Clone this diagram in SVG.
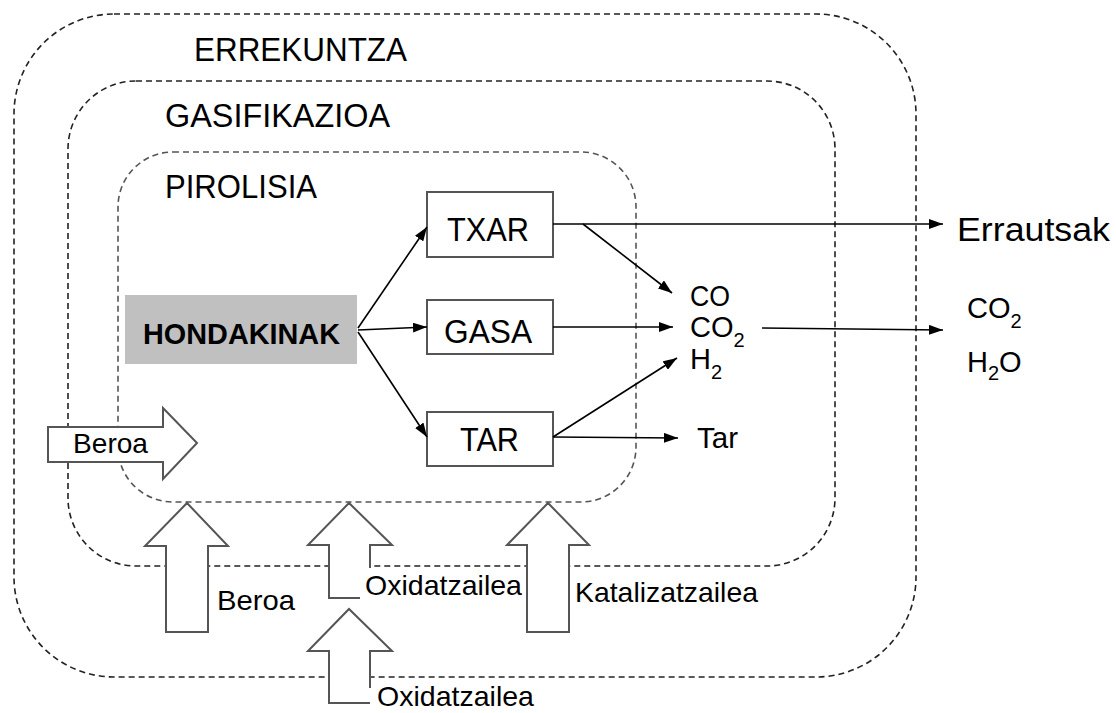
<svg xmlns="http://www.w3.org/2000/svg" width="1116" height="713" viewBox="0 0 1116 713">
<defs>
<marker id="ah" markerUnits="userSpaceOnUse" markerWidth="14" markerHeight="10" viewBox="0 0 14 10" refX="14" refY="5" orient="auto">
<path d="M0,0 L14,5 L0,10 Z" fill="#000"/>
</marker>
</defs>
<style>
.zone{fill:none;stroke:#222;stroke-width:1.6;stroke-dasharray:6 4}
.zone2{fill:none;stroke:#555;stroke-width:1.6;stroke-dasharray:6 4}
.t{font-family:"Liberation Sans",Arial,sans-serif;fill:#000}
.title{font-size:33px}
.box{fill:#fff;stroke:#555;stroke-width:2}
.conn{fill:none;stroke:#000;stroke-width:1.6;marker-end:url(#ah)}
.big{fill:#fff;stroke:#555;stroke-width:2;stroke-linejoin:miter}
.lbl{font-size:28px}
.chem{font-size:29px}
.sub{font-size:20px}
</style>
<g id="erreuntza">
<rect class="zone" x="14" y="14" width="902" height="663" rx="100" ry="100"/>
<text class="t title" x="194" y="61" textLength="213" lengthAdjust="spacingAndGlyphs">ERREKUNTZA</text>
</g>
<g id="gasifikazioa">
<rect class="zone" x="68" y="81" width="767" height="485" rx="68" ry="68"/>
<text class="t title" x="165" y="127" textLength="225" lengthAdjust="spacingAndGlyphs">GASIFIKAZIOA</text>
</g>
<g id="pirolisia">
<rect class="zone2" x="118" y="152" width="518" height="350" rx="55" ry="55"/>
<text class="t title" x="165" y="198" textLength="152" lengthAdjust="spacingAndGlyphs">PIROLISIA</text>
</g>
<g id="hondakinak">
<rect x="125" y="295" width="232" height="69" fill="#c0c0c0"/>
<text class="t" x="143" y="344" font-size="29.5" font-weight="bold" textLength="197" lengthAdjust="spacingAndGlyphs">HONDAKINAK</text>
</g>
<g id="txar">
<rect class="box" x="427" y="192" width="126" height="65"/>
<text class="t title" x="447" y="241" textLength="82" lengthAdjust="spacingAndGlyphs">TXAR</text>
</g>
<g id="gasa">
<rect class="box" x="427" y="300" width="126" height="54"/>
<text class="t title" x="444" y="343" textLength="88" lengthAdjust="spacingAndGlyphs">GASA</text>
</g>
<g id="tar">
<rect class="box" x="427" y="412" width="126" height="54"/>
<text class="t title" x="460" y="451" textLength="59" lengthAdjust="spacingAndGlyphs">TAR</text>
</g>
<g id="gases">
<text class="t chem" x="690" y="306" textLength="40" lengthAdjust="spacingAndGlyphs">CO</text>
<text class="t chem" x="690" y="337">CO<tspan class="sub" dy="10">2</tspan></text>
<text class="t chem" x="690" y="369">H<tspan class="sub" dy="10">2</tspan></text>
</g>
<g id="tar-out">
<text class="t chem" x="697" y="448" textLength="41" lengthAdjust="spacingAndGlyphs">Tar</text>
</g>
<g id="erraustak">
<text class="t" x="957" y="241" font-size="34" textLength="153" lengthAdjust="spacingAndGlyphs">Errautsak</text>
</g>
<g id="products">
<text class="t chem" x="967" y="318">CO<tspan class="sub" dy="10">2</tspan></text>
<text class="t chem" x="967" y="372">H<tspan class="sub" dy="8">2</tspan><tspan dy="-8">O</tspan></text>
</g>
<g id="connectors">
<line class="conn" x1="358" y1="328" x2="427" y2="227"/>
<line class="conn" x1="358" y1="330" x2="427" y2="327"/>
<line class="conn" x1="358" y1="332" x2="427" y2="437"/>
<line class="conn" x1="553" y1="224" x2="943" y2="224"/>
<line class="conn" x1="583" y1="224" x2="672" y2="293"/>
<line class="conn" x1="553" y1="327" x2="673" y2="327"/>
<line class="conn" x1="553" y1="437" x2="677" y2="358"/>
<line class="conn" x1="553" y1="437" x2="678" y2="438"/>
<line class="conn" x1="762" y1="328" x2="943" y2="330"/>
</g>
<g id="beroa-left">
<path class="big" d="M48,427 L163,427 L163,408 L197,443 L163,479 L163,462 L48,462 Z"/>
<text class="t lbl" x="73" y="453" textLength="75" lengthAdjust="spacingAndGlyphs">Beroa</text>
</g>
<g id="beroa-bottom">
<path class="big" d="M166,632 L166,546 L145,546 L187,503 L228,546 L208,546 L208,632 Z"/>
<text class="t lbl" x="217" y="610" textLength="78" lengthAdjust="spacingAndGlyphs">Beroa</text>
</g>
<g id="oxidatzailea-1">
<path class="big" d="M360,598 L329,598 L329,545 L308,545 L349,503 L392,545 L370,545 L370,568"/>
<text class="t lbl" x="365" y="595" textLength="157" lengthAdjust="spacingAndGlyphs">Oxidatzailea</text>
</g>
<g id="oxidatzailea-2">
<path class="big" d="M370,703 L329,703 L329,651 L308,651 L349,609 L392,651 L370,651 L370,688"/>
<text class="t lbl" x="377" y="706" textLength="157" lengthAdjust="spacingAndGlyphs">Oxidatzailea</text>
</g>
<g id="katalizatzailea">
<path class="big" d="M527,632 L527,545 L507,545 L548,503 L589,545 L569,545 L569,632 Z"/>
<text class="t lbl" x="575" y="602" textLength="183" lengthAdjust="spacingAndGlyphs">Katalizatzailea</text>
</g>
</svg>
